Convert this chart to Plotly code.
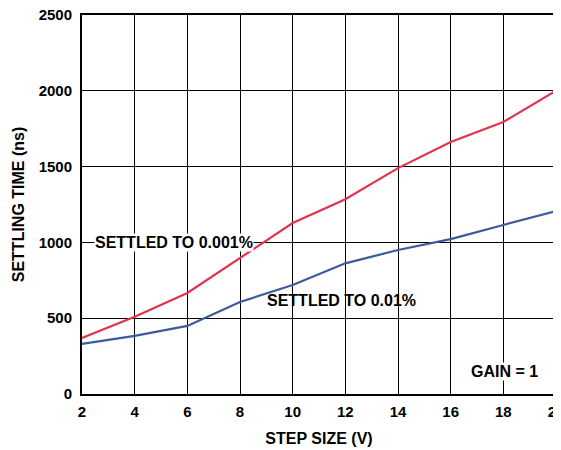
import plotly.graph_objects as go

# step size (V)
step_size = [2, 4, 6, 8, 10, 12, 14, 16, 18, 20]
# settling time (ns)
settled_0001 = [370, 510, 666, 897, 1128, 1285, 1490, 1662, 1794, 2000]
settled_001 = [330, 383, 449, 607, 719, 862, 950, 1022, 1115, 1207]

x_ticks = [2, 4, 6, 8, 10, 12, 14, 16, 18, 20]
y_ticks = [0, 500, 1000, 1500, 2000, 2500]

font_family = "Liberation Sans, Arial, sans-serif"
bold = dict(family=font_family, size=16, color="black", weight="bold")
tick_font = dict(family=font_family, size=15, color="black", weight="bold")

fig = go.Figure()
fig.add_trace(go.Scatter(x=step_size, y=settled_0001, mode="lines",
                         line=dict(color="#e3324f", width=2.2)))
fig.add_trace(go.Scatter(x=step_size, y=settled_001, mode="lines",
                         line=dict(color="#3b5b9c", width=2.2)))

fig.add_annotation(x=5.5, y=1000, text="SETTLED TO 0.001%", showarrow=False,
                   font=bold, bgcolor="white", borderpad=0)
fig.add_annotation(x=11.85, y=620, text="SETTLED TO 0.01%", showarrow=False,
                   font=bold)
fig.add_annotation(x=18.05, y=150, text="GAIN = 1", showarrow=False,
                   font=bold, bgcolor="white", borderpad=0)

axis_style = dict(
    showgrid=True, gridcolor="black", gridwidth=1,
    showline=True, linecolor="black", linewidth=2, mirror=True,
    zeroline=False, ticks="", automargin=False,
    ticklabeloverflow="allow",
    tickfont=tick_font,
)

fig.update_xaxes(range=[2, 20], tickvals=x_ticks, ticklabelstandoff=3,
                 title=dict(text="STEP SIZE (V)", standoff=14, font=bold),
                 **axis_style)
fig.update_yaxes(range=[0, 2500], tickvals=y_ticks, ticklabelstandoff=5,
                 title=dict(text="SETTLING TIME (ns)", standoff=10, font=bold),
                 **axis_style)

# the page body adds an 8px offset, margins account for it
fig.update_layout(
    width=561, height=450,
    margin=dict(l=74, r=13, t=7, b=64),
    plot_bgcolor="white", paper_bgcolor="white",
    showlegend=False,
)

fig.write_html("out.html")
